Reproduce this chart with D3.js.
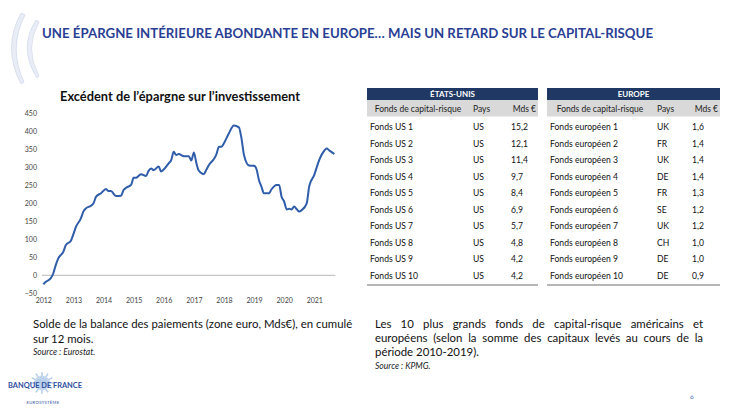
<!DOCTYPE html>
<html>
<head>
<meta charset="utf-8">
<script src="https://cdn.jsdelivr.net/npm/d3@7/dist/d3.min.js"></script>
<style>
  html, body { margin: 0; padding: 0; background: #fff; }
  svg { display: block; font-family: Lato, "Open Sans", sans-serif; }
</style>
</head>
<body>
<svg id="c" width="730" height="410"></svg>
<script>
// ---------- DATA ----------
const slideTitle = "UNE ÉPARGNE INTÉRIEURE ABONDANTE EN EUROPE… MAIS UN RETARD SUR LE CAPITAL-RISQUE";
const chartTitle = "Excédent de l’épargne sur l’investissement";
const months = ["2012-01","2012-02","2012-04","2012-05","2012-06","2012-07","2012-09","2012-10","2012-12",
  "2013-01","2013-02","2013-04","2013-05","2013-06","2013-08","2013-09","2013-10","2013-12",
  "2014-02","2014-03","2014-04","2014-06","2014-08","2014-09","2014-10","2014-12",
  "2015-01","2015-02","2015-03","2015-04","2015-06","2015-07","2015-08","2015-09","2015-11","2015-12",
  "2016-01","2016-03","2016-04","2016-05","2016-06","2016-07","2016-09","2016-11","2016-12",
  "2017-01","2017-02","2017-03","2017-05","2017-06","2017-07","2017-09","2017-10","2017-11","2017-12",
  "2018-01","2018-03","2018-05","2018-07","2018-08","2018-09","2018-11",
  "2019-01","2019-02","2019-03","2019-04","2019-05","2019-07","2019-08","2019-10","2019-11","2019-12",
  "2020-01","2020-02","2020-03","2020-04","2020-05","2020-06","2020-07","2020-08","2020-10","2020-11",
  "2021-01","2021-02","2021-03","2021-05","2021-06","2021-07","2021-09"];
const surplus = [-25,-18,-8,5,29,47,66,84,96,
  115,135,158,177,186,193,200,218,228,
  240,234,234,220,221,237,243,251,
  271,271,276,281,276,290,297,292,302,288,
  294,311,320,343,334,337,331,331,319,
  341,311,291,281,293,306,323,336,357,357,
  367,394,416,411,381,334,305,
  304,294,265,246,228,228,239,251,251,218,
  205,183,185,183,191,184,177,181,200,248,
  279,301,320,346,352,347,337];
const yTicks = [-50,0,50,100,150,200,250,300,350,400,450];
const xYears = [2012,2013,2014,2015,2016,2017,2018,2019,2020,2021];

const tableColumns = ["Fonds de capital-risque","Pays","Mds €"];
const usHeader = "ÉTATS-UNIS";
const usFunds = ["Fonds US 1","Fonds US 2","Fonds US 3","Fonds US 4","Fonds US 5","Fonds US 6","Fonds US 7","Fonds US 8","Fonds US 9","Fonds US 10"];
const usCountries = ["US","US","US","US","US","US","US","US","US","US"];
const usValues = [15.2,12.1,11.4,9.7,8.4,6.9,5.7,4.8,4.2,4.2];
const euHeader = "EUROPE";
const euFunds = ["Fonds européen 1","Fonds européen 2","Fonds européen 3","Fonds européen 4","Fonds européen 5","Fonds européen 6","Fonds européen 7","Fonds européen 8","Fonds européen 9","Fonds européen 10"];
const euCountries = ["UK","FR","UK","DE","FR","SE","UK","CH","DE","DE"];
const euValues = [1.6,1.4,1.4,1.4,1.3,1.2,1.2,1.0,1.0,0.9];

const leftCaption = ["Solde de la balance des paiements (zone euro, Mds€), en cumulé","sur 12 mois."];
const leftSource = "Source : Eurostat.";
const rightCaption = ["Les 10 plus grands fonds de capital-risque américains et","européens (selon la somme des capitaux levés au cours de la","période 2010-2019)."];
const rightSource = "Source : KPMG.";
const pageNumber = "6";

// ---------- DRAW ----------
const svg = d3.select("#c");
const navy = "#1F3864", titleBlue = "#2A3F94";

function fitSize(text, baseSize, weight, target) {
  const t = svg.append("text").attr("font-size", baseSize).attr("font-weight", weight).text(text);
  const w = t.node().getComputedTextLength();
  t.remove();
  return baseSize * target / w;
}

// decorative arcs top-left
const deco = svg.append("g");
deco.append("path").attr("d","M21,13 Q2,48 21,84 L24,82 Q8,48 25,15 Z").attr("fill","#E9EDF6").attr("stroke","#C8D0E6").attr("stroke-width",0.6);
deco.append("path").attr("d","M36,20 Q18,48 37,78 L39,76 Q24,48 39,22 Z").attr("fill","#E9EDF6").attr("stroke","#C8D0E6").attr("stroke-width",0.6);

const titleSize = Math.min(15, fitSize(slideTitle, 15, 700, 611) * 1.06);
svg.append("text").attr("x",42).attr("y",38).attr("font-weight",700).attr("font-size",titleSize)
  .attr("fill",titleBlue).attr("textLength",611).attr("lengthAdjust","spacingAndGlyphs").text(slideTitle);

// chart
svg.append("text").attr("x",60).attr("y",101).attr("font-weight",700).attr("font-size",13.5)
  .attr("fill","#111").attr("textLength",240).attr("lengthAdjust","spacingAndGlyphs").text(chartTitle);

const parse = d3.timeParse("%Y-%m");
const x = d3.scaleTime().domain([new Date(2012,0,1), new Date(2021,0,1)]).range([43.3, 314.3]);
const y = d3.scaleLinear().domain([-50,450]).range([293.3,113.3]);

const yAxis = svg.append("g").attr("transform","translate(37,0)")
  .call(d3.axisLeft(y).tickValues(yTicks).tickSize(0).tickPadding(0));
yAxis.select(".domain").remove();
yAxis.selectAll("text").attr("font-size",7).attr("fill","#444").attr("font-family","Lato, sans-serif");

const xAxis = svg.append("g").attr("transform","translate(0,298)")
  .call(d3.axisBottom(x).tickValues(xYears.map(v=>new Date(v,0,1))).tickFormat(d3.timeFormat("%Y")).tickSize(0).tickPadding(0));
xAxis.select(".domain").remove();
xAxis.selectAll("text").attr("font-size",7).attr("fill","#444").attr("font-family","Lato, sans-serif");

svg.append("line").attr("x1",x(new Date(2012,0,1))-1.5).attr("x2",x(parse(months[months.length-1]))+1)
  .attr("y1",y(0)).attr("y2",y(0)).attr("stroke","#A6A6A6").attr("stroke-width",0.8);

const series = months.map((m,i)=>({d:parse(m), v:surplus[i]}));
svg.append("path").datum(series)
  .attr("d", d3.line().x(d=>x(d.d)).y(d=>y(d.v)).curve(d3.curveMonotoneX))
  .attr("fill","none").attr("stroke","#2F5DAA").attr("stroke-width",2).attr("stroke-linejoin","round");

// tables
const fmt = v => d3.format(".1f")(v).replace(".",",");
function drawTable(x0, x1, header, funds, countries, values, cols) {
  const g = svg.append("g");
  g.append("rect").attr("x",x0).attr("y",88).attr("width",x1-x0).attr("height",12).attr("fill",navy);
  g.append("text").attr("x",(x0+x1)/2).attr("y",97).attr("text-anchor","middle").attr("fill","#fff")
    .attr("font-weight",700).attr("font-size",8).text(header);
  g.append("rect").attr("x",x0).attr("y",100).attr("width",x1-x0).attr("height",16.5).attr("fill","#D9D9D9");
  g.append("text").attr("x",cols.h1).attr("y",111.5).attr("text-anchor","middle").attr("font-size",8.5).attr("fill","#222").text(tableColumns[0]);
  g.append("text").attr("x",cols.c2).attr("y",111.5).attr("font-size",8.5).attr("fill","#222").text(tableColumns[1]);
  g.append("text").attr("x",x1-2).attr("y",111.5).attr("text-anchor","end").attr("font-size",8.5).attr("fill","#222").text(tableColumns[2]);
  funds.forEach((f,i)=>{
    const cy = 130 + i*16.5;
    g.append("text").attr("x",cols.c1).attr("y",cy).attr("font-size",8.6).attr("fill","#111").text(f);
    g.append("text").attr("x",cols.c2).attr("y",cy).attr("font-size",8.6).attr("fill","#111").text(countries[i]);
    g.append("text").attr("x",cols.c3).attr("y",cy).attr("font-size",8.6).attr("fill","#111").text(fmt(values[i]));
  });
  g.append("line").attr("x1",x0).attr("x2",x1).attr("y1",285).attr("y2",285).attr("stroke","#9E9E9E").attr("stroke-width",1.5);
}
drawTable(367, 538, usHeader, usFunds, usCountries, usValues, {h1:418, c1:370, c2:473, c3:511});
drawTable(547, 720, euHeader, euFunds, euCountries, euValues, {h1:600, c1:550, c2:657, c3:692});

// captions
const capSize = Math.min(11.4, fitSize(leftCaption[0], 10.6, 400, 320));
leftCaption.forEach((t,i)=>{
  svg.append("text").attr("x",33).attr("y",328+i*14.5).attr("font-size",capSize).attr("fill","#111").text(t);
});
svg.append("text").attr("x",33).attr("y",355).attr("font-size",8.6).attr("font-style","italic").attr("fill","#222").text(leftSource);

function justify(line, x0, x1, yy, size) {
  const words = line.split(" ");
  const tmp = svg.append("text").attr("font-size",size);
  const widths = words.map(w => { tmp.text(w); return tmp.node().getComputedTextLength(); });
  tmp.remove();
  const total = d3.sum(widths);
  const gap = (x1 - x0 - total) / (words.length - 1);
  let cx = x0;
  words.forEach((w,i)=>{
    svg.append("text").attr("x",cx).attr("y",yy).attr("font-size",size).attr("fill","#111").text(w);
    cx += widths[i] + gap;
  });
}
rightCaption.forEach((t,i)=>{
  if (i < rightCaption.length-1) justify(t, 375, 703, 328+i*14, capSize);
  else svg.append("text").attr("x",375).attr("y",328+i*14).attr("font-size",capSize).attr("fill","#111").text(t);
});
svg.append("text").attr("x",375).attr("y",369).attr("font-size",8.6).attr("font-style","italic").attr("fill","#222").text(rightSource);

// footer logo
const logo = svg.append("g");
const cxL = 42, cyL = 383;
d3.range(0, 360, 15).forEach(a=>{
  const r = (a % 30 === 0) ? 12 : 8;
  const rad = a*Math.PI/180;
  logo.append("line").attr("x1",cxL).attr("y1",cyL).attr("x2",cxL+r*Math.cos(rad)).attr("y2",cyL+r*Math.sin(rad)*0.9)
    .attr("stroke","#B9CFEA").attr("stroke-width",1.6);
});
logo.append("text").attr("x",8).attr("y",388).attr("font-size",7.6).attr("font-weight",700).attr("fill","#2E4E9E")
  .attr("textLength",74).attr("lengthAdjust","spacingAndGlyphs").text("BANQUE DE FRANCE");
logo.append("text").attr("x",43).attr("y",404).attr("text-anchor","middle").attr("font-size",4.2).attr("fill","#2E4E9E").attr("letter-spacing",0.3).text("EUROSYSTÈME");

svg.append("text").attr("x",692).attr("y",399).attr("text-anchor","middle").attr("font-size",6.5).attr("fill","#4A6FB5").text(pageNumber);
</script>
</body>
</html>
